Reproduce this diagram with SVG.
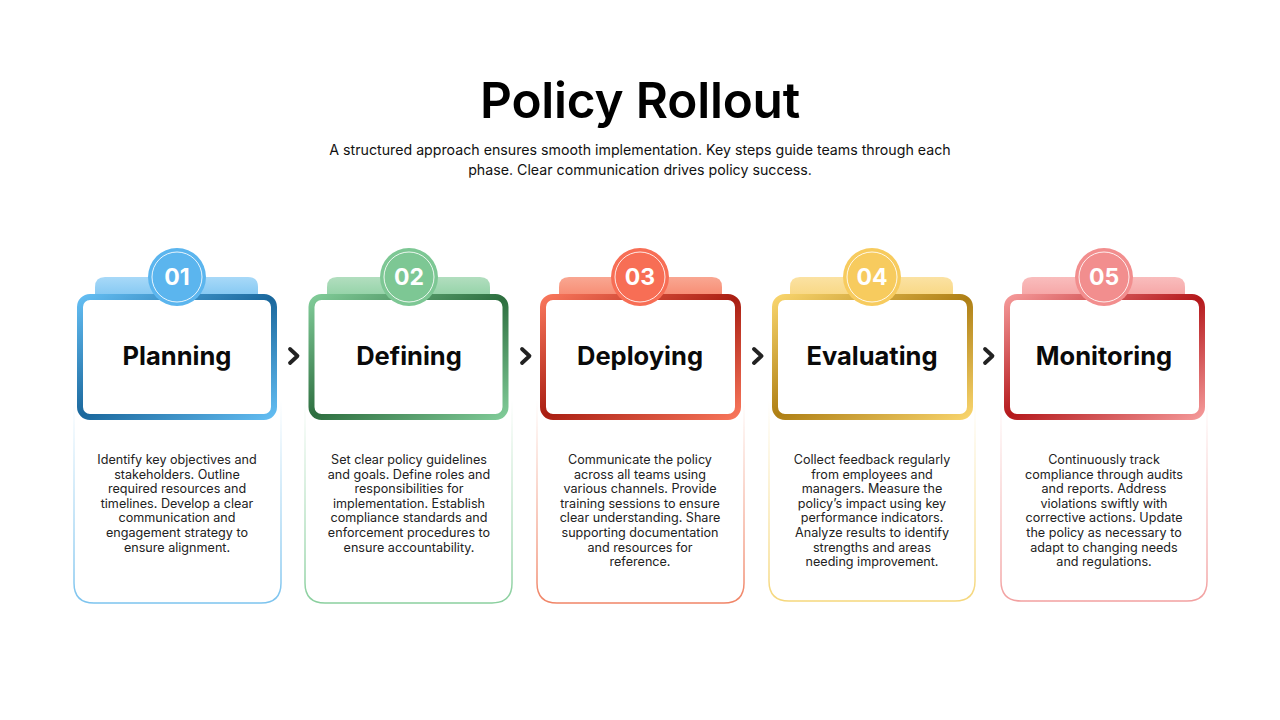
<svg xmlns="http://www.w3.org/2000/svg" width="1280" height="720" viewBox="0 0 1280 720">
<style>
.title{font-family:Inter,"Noto Sans",sans-serif;font-weight:600;font-size:49.5px;fill:#000;text-anchor:middle;letter-spacing:-0.2px}
.sub{font-family:Inter,"Noto Sans",sans-serif;font-size:14.2px;fill:#111;text-anchor:middle}
.head{font-family:Inter,"Noto Sans",sans-serif;font-weight:700;font-size:25.5px;fill:#0a0a0a;text-anchor:middle}
.num{font-family:Inter,"Noto Sans",sans-serif;font-weight:700;font-size:23px;fill:#fff;text-anchor:middle}
.body{font-family:Inter,"Noto Sans",sans-serif;font-size:12.6px;fill:#222;text-anchor:middle}
.inner{fill:#fff;stroke-width:6}
.ring{fill:none;stroke:#fff;stroke-width:1;opacity:0.85}
.low{fill:#fff;stroke-width:1.5}
.chev{fill:none;stroke:#222;stroke-width:3.8;stroke-linecap:round;stroke-linejoin:round}
</style>
<defs>
<linearGradient id="gb" x1="0" y1="0" x2="1" y2="1"><stop offset="0" stop-color="#63BDF2"/><stop offset="0.5" stop-color="#1A679C"/><stop offset="1" stop-color="#63BDF2"/></linearGradient>
<linearGradient id="gg" x1="0" y1="0" x2="1" y2="1"><stop offset="0" stop-color="#80CB98"/><stop offset="0.5" stop-color="#2D6E3F"/><stop offset="1" stop-color="#80CB98"/></linearGradient>
<linearGradient id="go" x1="0" y1="0" x2="1" y2="1"><stop offset="0" stop-color="#F8765B"/><stop offset="0.5" stop-color="#A91E12"/><stop offset="1" stop-color="#F8765B"/></linearGradient>
<linearGradient id="gy" x1="0" y1="0" x2="1" y2="1"><stop offset="0" stop-color="#F8D46C"/><stop offset="0.5" stop-color="#AE7F15"/><stop offset="1" stop-color="#F8D46C"/></linearGradient>
<linearGradient id="gp" x1="0" y1="0" x2="1" y2="1"><stop offset="0" stop-color="#F49898"/><stop offset="0.5" stop-color="#B4181B"/><stop offset="1" stop-color="#F49898"/></linearGradient>
<linearGradient id="lb" x1="0" y1="0" x2="0" y2="1"><stop offset="0" stop-color="#7CC3EE" stop-opacity="0"/><stop offset="1" stop-color="#7CC3EE"/></linearGradient>
<linearGradient id="lg" x1="0" y1="0" x2="0" y2="1"><stop offset="0" stop-color="#8ACF9E" stop-opacity="0"/><stop offset="1" stop-color="#8ACF9E"/></linearGradient>
<linearGradient id="lo" x1="0" y1="0" x2="0" y2="1"><stop offset="0" stop-color="#F08466" stop-opacity="0"/><stop offset="1" stop-color="#F08466"/></linearGradient>
<linearGradient id="ly" x1="0" y1="0" x2="0" y2="1"><stop offset="0" stop-color="#F5D77C" stop-opacity="0"/><stop offset="1" stop-color="#F5D77C"/></linearGradient>
<linearGradient id="lp" x1="0" y1="0" x2="0" y2="1"><stop offset="0" stop-color="#F2A0A0" stop-opacity="0"/><stop offset="1" stop-color="#F2A0A0"/></linearGradient>
<linearGradient id="tb" x1="0" y1="0" x2="0" y2="1"><stop offset="0" stop-color="#A8D9F8"/><stop offset="1" stop-color="#7CC4F1"/></linearGradient>
<linearGradient id="tg" x1="0" y1="0" x2="0" y2="1"><stop offset="0" stop-color="#B2DEBF"/><stop offset="1" stop-color="#8DD0A2"/></linearGradient>
<linearGradient id="to" x1="0" y1="0" x2="0" y2="1"><stop offset="0" stop-color="#F9A792"/><stop offset="1" stop-color="#F7866C"/></linearGradient>
<linearGradient id="ty" x1="0" y1="0" x2="0" y2="1"><stop offset="0" stop-color="#FBE2A3"/><stop offset="1" stop-color="#F8D57C"/></linearGradient>
<linearGradient id="tp" x1="0" y1="0" x2="0" y2="1"><stop offset="0" stop-color="#F9BDBD"/><stop offset="1" stop-color="#F5A0A0"/></linearGradient>
</defs>
<rect width="1280" height="720" fill="#fff"/>
<text class="title" x="640" y="118">Policy Rollout</text>
<text class="sub" x="640" y="155">A structured approach ensures smooth implementation. Key steps guide teams through each</text>
<text class="sub" x="640" y="175">phase. Clear communication drives policy success.</text>

<g id="connectors">
<path class="chev" d="M290,349 L297.5,356 L290,363"/>
<path class="chev" d="M522,349 L529.5,356 L522,363"/>
<path class="chev" d="M754,349 L761.5,356 L754,363"/>
<path class="chev" d="M985,349 L992.5,356 L985,363"/>
</g>

<g id="card1">
<path class="low" stroke="url(#lb)" d="M74,400 V583 Q74,603 94,603 H261 Q281,603 281,583 V400"/>
<path fill="url(#tb)" d="M95,300 V287 Q95,277 105,277 H248 Q258,277 258,287 V300 Z"/>
<rect class="inner" stroke="url(#gb)" x="80" y="297" width="194" height="120" rx="10"/>
<circle cx="177" cy="277" r="29" fill="#5BB5EE"/>
<circle class="ring" cx="177" cy="277" r="25"/>
<text class="num" x="177" y="285">01</text>
<text class="head" x="177" y="365">Planning</text>
<text class="body"><tspan x="177" y="464">Identify key objectives and</tspan><tspan x="177" y="478.6">stakeholders. Outline</tspan><tspan x="177" y="493.2">required resources and</tspan><tspan x="177" y="507.8">timelines. Develop a clear</tspan><tspan x="177" y="522.4">communication and</tspan><tspan x="177" y="537">engagement strategy to</tspan><tspan x="177" y="551.6">ensure alignment.</tspan></text>
</g>

<g id="card2">
<path class="low" stroke="url(#lg)" d="M305,400 V583 Q305,603 325,603 H492 Q512,603 512,583 V400"/>
<path fill="url(#tg)" d="M327,300 V287 Q327,277 337,277 H480 Q490,277 490,287 V300 Z"/>
<rect class="inner" stroke="url(#gg)" x="311.5" y="297" width="194" height="120" rx="10"/>
<circle cx="409" cy="277" r="29" fill="#7DC794"/>
<circle class="ring" cx="409" cy="277" r="25"/>
<text class="num" x="409" y="285">02</text>
<text class="head" x="409" y="365">Defining</text>
<text class="body"><tspan x="409" y="464">Set clear policy guidelines</tspan><tspan x="409" y="478.6">and goals. Define roles and</tspan><tspan x="409" y="493.2">responsibilities for</tspan><tspan x="409" y="507.8">implementation. Establish</tspan><tspan x="409" y="522.4">compliance standards and</tspan><tspan x="409" y="537">enforcement procedures to</tspan><tspan x="409" y="551.6">ensure accountability.</tspan></text>
</g>

<g id="card3">
<path class="low" stroke="url(#lo)" d="M537,400 V583 Q537,603 557,603 H724 Q744,603 744,583 V400"/>
<path fill="url(#to)" d="M559,300 V287 Q559,277 569,277 H712 Q722,277 722,287 V300 Z"/>
<rect class="inner" stroke="url(#go)" x="543" y="297" width="195" height="120" rx="10"/>
<circle cx="640" cy="277" r="29" fill="#F76E55"/>
<circle class="ring" cx="640" cy="277" r="25"/>
<text class="num" x="640" y="285">03</text>
<text class="head" x="640" y="365">Deploying</text>
<text class="body"><tspan x="640" y="464">Communicate the policy</tspan><tspan x="640" y="478.6">across all teams using</tspan><tspan x="640" y="493.2">various channels. Provide</tspan><tspan x="640" y="507.8">training sessions to ensure</tspan><tspan x="640" y="522.4">clear understanding. Share</tspan><tspan x="640" y="537">supporting documentation</tspan><tspan x="640" y="551.6">and resources for</tspan><tspan x="640" y="566.2">reference.</tspan></text>
</g>

<g id="card4">
<path class="low" stroke="url(#ly)" d="M769,400 V581 Q769,601 789,601 H955 Q975,601 975,581 V400"/>
<path fill="url(#ty)" d="M790,300 V287 Q790,277 800,277 H943 Q953,277 953,287 V300 Z"/>
<rect class="inner" stroke="url(#gy)" x="775" y="297" width="195" height="120" rx="10"/>
<circle cx="872" cy="277" r="29" fill="#F7CB5E"/>
<circle class="ring" cx="872" cy="277" r="25"/>
<text class="num" x="872" y="285">04</text>
<text class="head" x="872" y="365">Evaluating</text>
<text class="body"><tspan x="872" y="464">Collect feedback regularly</tspan><tspan x="872" y="478.6">from employees and</tspan><tspan x="872" y="493.2">managers. Measure the</tspan><tspan x="872" y="507.8">policy’s impact using key</tspan><tspan x="872" y="522.4">performance indicators.</tspan><tspan x="872" y="537">Analyze results to identify</tspan><tspan x="872" y="551.6">strengths and areas</tspan><tspan x="872" y="566.2">needing improvement.</tspan></text>
</g>

<g id="card5">
<path class="low" stroke="url(#lp)" d="M1001,400 V581 Q1001,601 1021,601 H1187 Q1207,601 1207,581 V400"/>
<path fill="url(#tp)" d="M1022,300 V287 Q1022,277 1032,277 H1175 Q1185,277 1185,287 V300 Z"/>
<rect class="inner" stroke="url(#gp)" x="1007" y="297" width="195" height="120" rx="10"/>
<circle cx="1104" cy="277" r="29" fill="#F28E8E"/>
<circle class="ring" cx="1104" cy="277" r="25"/>
<text class="num" x="1104" y="285">05</text>
<text class="head" x="1104" y="365">Monitoring</text>
<text class="body"><tspan x="1104" y="464">Continuously track</tspan><tspan x="1104" y="478.6">compliance through audits</tspan><tspan x="1104" y="493.2">and reports. Address</tspan><tspan x="1104" y="507.8">violations swiftly with</tspan><tspan x="1104" y="522.4">corrective actions. Update</tspan><tspan x="1104" y="537">the policy as necessary to</tspan><tspan x="1104" y="551.6">adapt to changing needs</tspan><tspan x="1104" y="566.2">and regulations.</tspan></text>
</g>
</svg>
